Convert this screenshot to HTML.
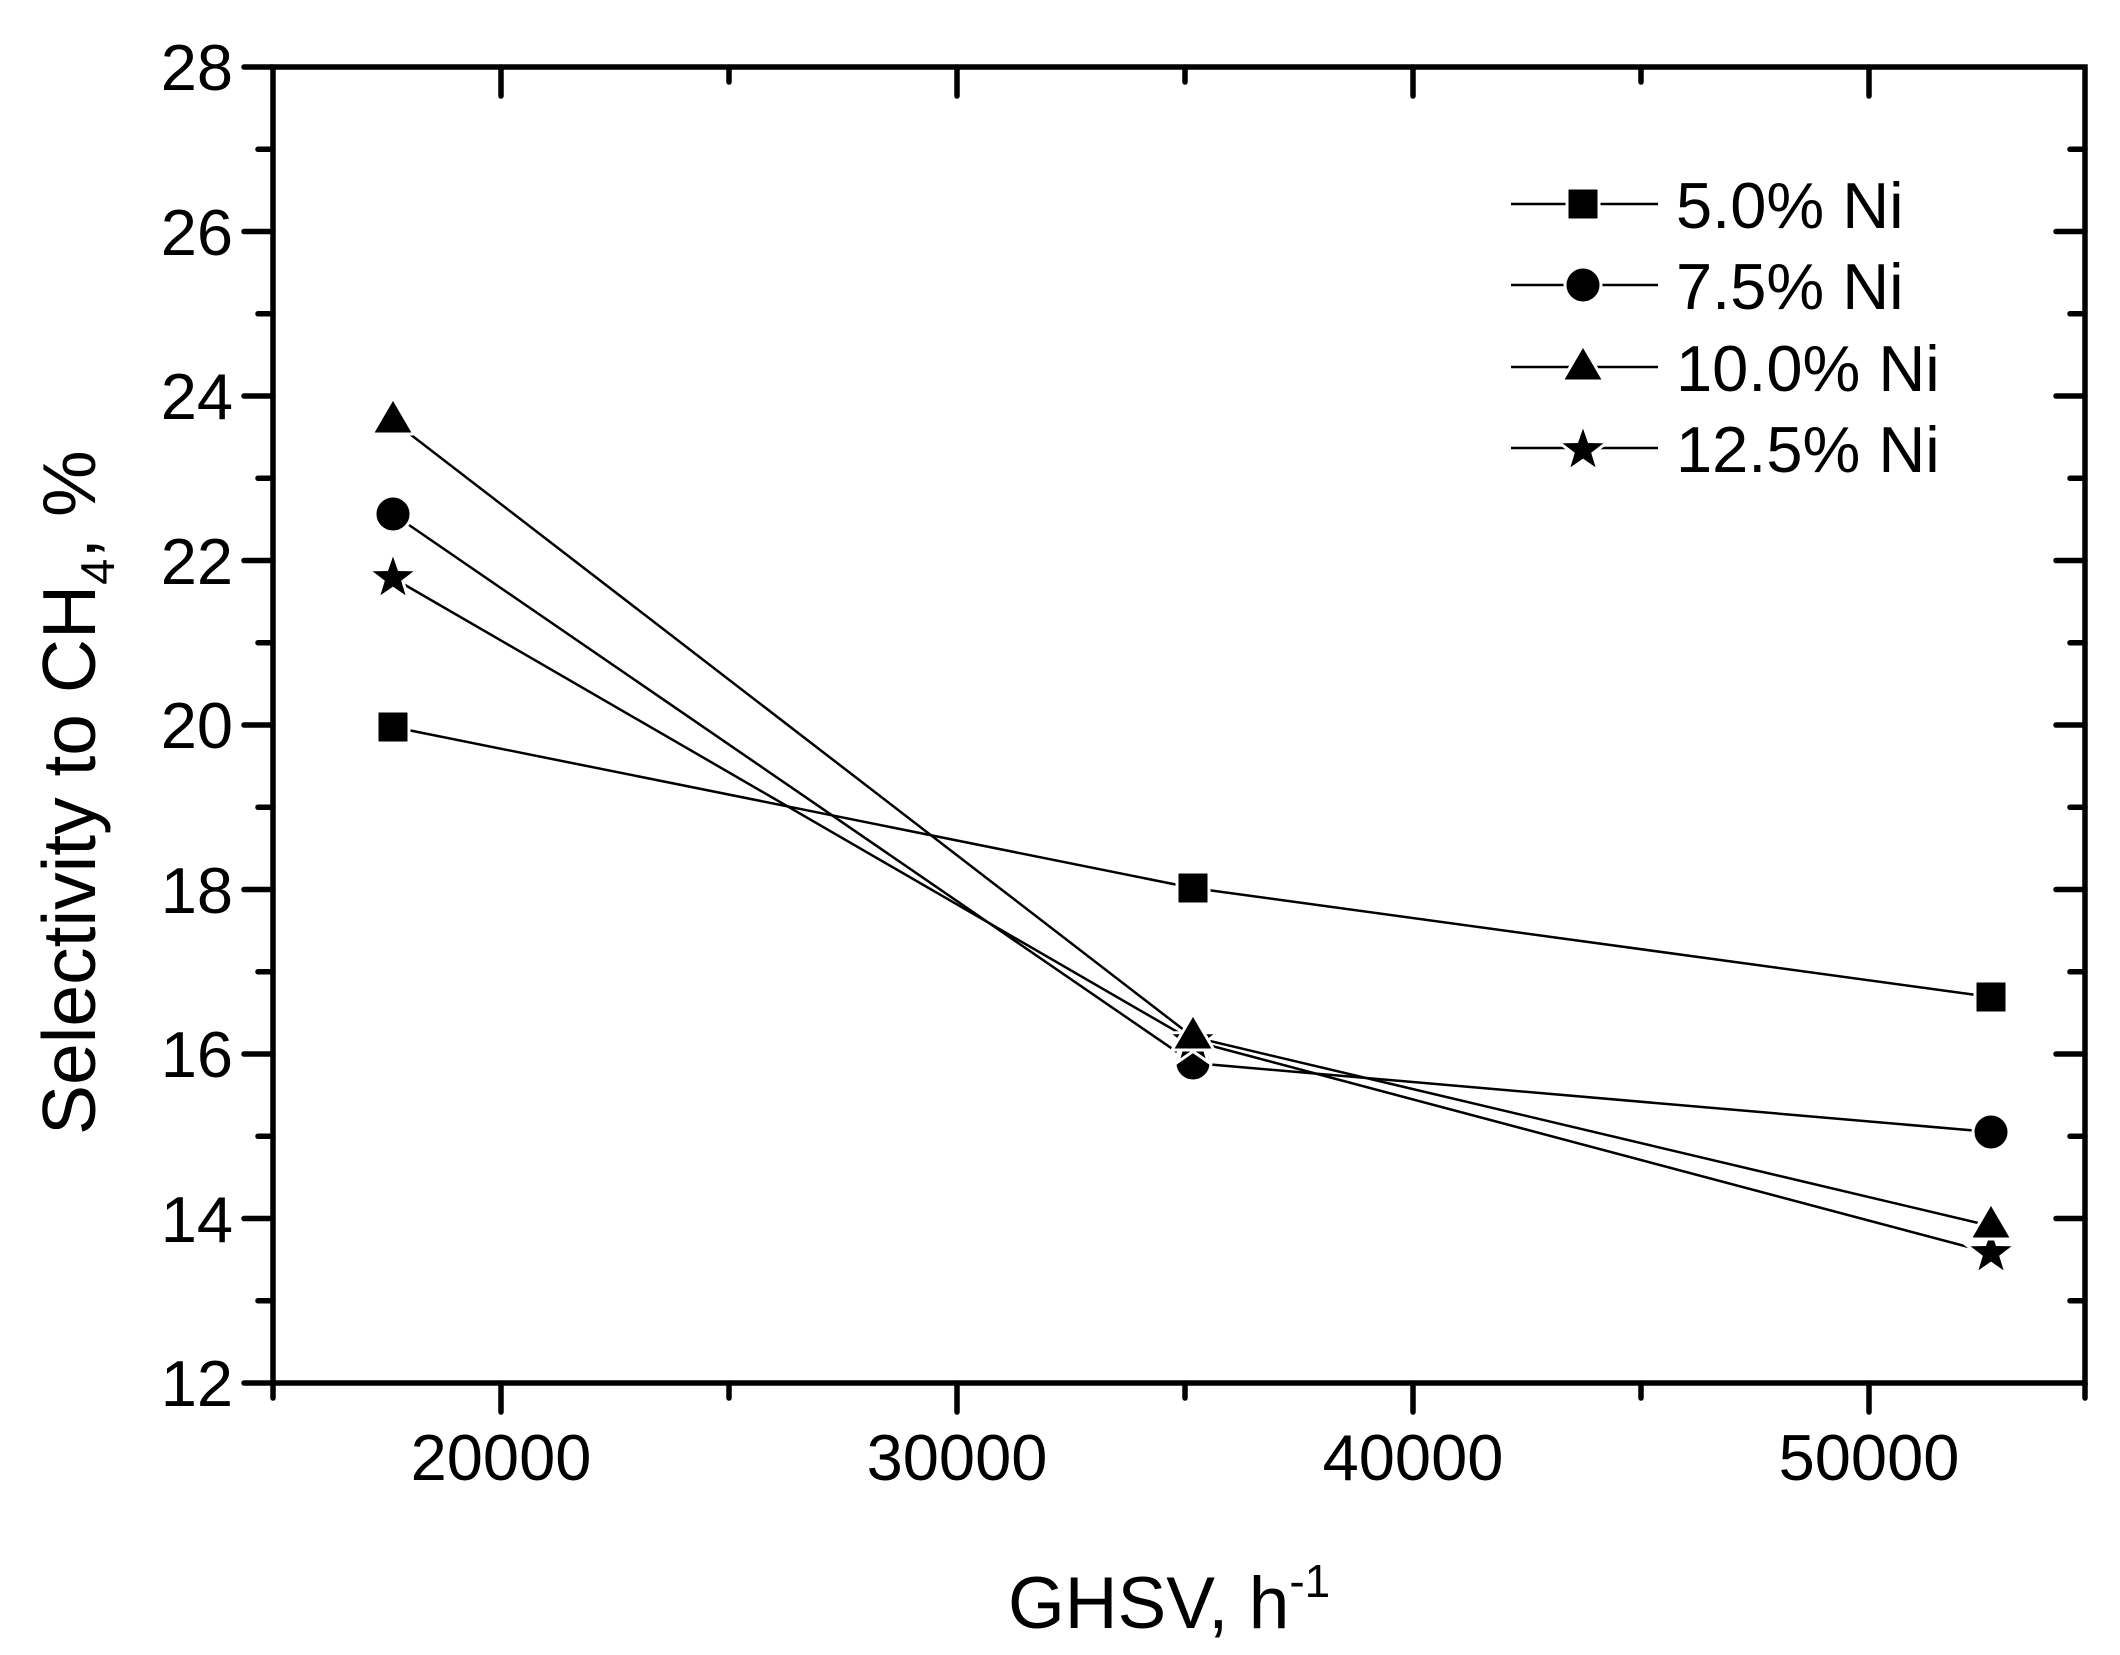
<!DOCTYPE html>
<html><head><meta charset="utf-8"><style>html,body{margin:0;padding:0;background:#fff}svg{display:block}</style></head>
<body>
<svg width="2120" height="1655" viewBox="0 0 2120 1655" xmlns="http://www.w3.org/2000/svg" font-family="Liberation Sans, Arial, sans-serif">
<rect width="2120" height="1655" fill="#fff"/>
<defs>
<path id="star" d="M0,-26 L6.1,-8.5 L24.7,-8.1 L9.9,3.3 L15.3,21 L0,10.4 L-15.3,21 L-9.9,3.3 L-24.7,-8.1 L-6.1,-8.5 Z"/>
</defs>
<g stroke="#000" stroke-width="5.5" stroke-linecap="round" fill="none">
<rect x="273" y="67" width="1812" height="1316"/>
<path d="M244,1383H273 M244,1218.5H273 M244,1054H273 M244,889.5H273 M244,725H273 M244,560.5H273 M244,396H273 M244,231.5H273 M244,67H273"/>
<path d="M258,1300.75H273 M258,1136.25H273 M258,971.75H273 M258,807.25H273 M258,642.75H273 M258,478.25H273 M258,313.75H273 M258,149.25H273"/>
<path d="M2056,1218.5H2085 M2056,1054H2085 M2056,889.5H2085 M2056,725H2085 M2056,560.5H2085 M2056,396H2085 M2056,231.5H2085"/>
<path d="M2070,1300.75H2085 M2070,1136.25H2085 M2070,971.75H2085 M2070,807.25H2085 M2070,642.75H2085 M2070,478.25H2085 M2070,313.75H2085 M2070,149.25H2085"/>
<path d="M501,1383V1412 M957,1383V1412 M1413,1383V1412 M1869,1383V1412"/>
<path d="M273,1383V1398 M729,1383V1398 M1185,1383V1398 M1641,1383V1398 M2085,1383V1398"/>
<path d="M501,67V96 M957,67V96 M1413,67V96 M1869,67V96"/>
<path d="M729,67V82 M1185,67V82 M1641,67V82"/>
</g>
<g font-size="65" fill="#000" text-anchor="end">
<text x="233" y="1406">12</text>
<text x="233" y="1242">14</text>
<text x="233" y="1077">16</text>
<text x="233" y="913">18</text>
<text x="233" y="748">20</text>
<text x="233" y="584">22</text>
<text x="233" y="419">24</text>
<text x="233" y="255">26</text>
<text x="233" y="90">28</text>
</g>
<g font-size="65" fill="#000" text-anchor="middle">
<text x="501" y="1480">20000</text>
<text x="957" y="1480">30000</text>
<text x="1413" y="1480">40000</text>
<text x="1869" y="1480">50000</text>
</g>
<text x="1008" y="1628" font-size="73">GHSV, h<tspan font-size="46" dy="-31">-1</tspan></text>
<text transform="translate(95,1135) rotate(-90)" font-size="75">Selectivity to CH<tspan font-size="47" dy="19">4</tspan><tspan dy="-19">, %</tspan></text>
<g stroke="#000" stroke-width="2.5" fill="none">
<polyline points="393,727 1193,888 1991,997"/>
<polyline points="393,514 1193,1063 1991,1132"/>
<polyline points="393,421 1193,1037 1991,1226"/>
<polyline points="393,578 1193,1041 1991,1253"/>
</g>
<g fill="#000" stroke="#fff" stroke-width="3">
<rect x="377" y="711" width="32" height="32" rx="2"/>
<rect x="1177" y="872" width="32" height="32" rx="2"/>
<rect x="1975" y="981" width="32" height="32" rx="2"/>
<circle cx="393" cy="514" r="18"/>
<circle cx="1193" cy="1063" r="18"/>
<circle cx="1991" cy="1132" r="18"/>
<use href="#star" x="393" y="578"/>
<use href="#star" x="1193" y="1041"/>
<use href="#star" x="1991" y="1253"/>
<polygon points="393,398 414,434 372,434"/>
<polygon points="1193,1014 1214,1050 1172,1050"/>
<polygon points="1991,1203 2012,1239 1970,1239"/>
</g>
<g stroke="#000" stroke-width="2.5">
<path d="M1511,204H1658 M1511,285H1658 M1511,367H1658 M1511,448H1658"/>
</g>
<g fill="#000" stroke="#fff" stroke-width="3">
<rect x="1567" y="188" width="32" height="32" rx="2"/>
<circle cx="1583" cy="285" r="18"/>
<polygon points="1583,345 1604,381 1562,381"/>
<use href="#star" x="1583" y="450"/>
</g>
<g font-size="65" fill="#000">
<text x="1676" y="228">5.0% Ni</text>
<text x="1676" y="309">7.5% Ni</text>
<text x="1676" y="391">10.0% Ni</text>
<text x="1676" y="472">12.5% Ni</text>
</g>
</svg>
</body></html>
